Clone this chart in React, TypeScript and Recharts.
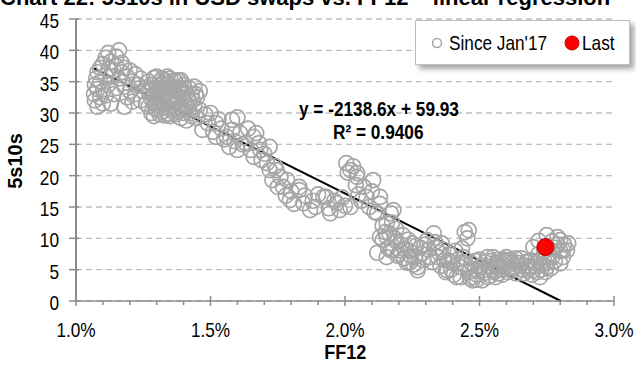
import React from 'react';
import { ScatterChart, Scatter, XAxis, YAxis, CartesianGrid, ReferenceLine } from 'recharts';

const titleText = 'Chart 22: 5s10s in USD swaps vs. FF12 – linear regression';
const xAxisTitle = 'FF12';
const yAxisTitle = '5s10s';
const seriesNames = ["Since Jan'17", 'Last'];
const equationText = 'y = -2138.6x + 59.93';
const r2Text = 'R² = 0.9406';

const xTicks = [1.0, 1.1, 1.2, 1.3, 1.4, 1.5, 1.6, 1.7, 1.8, 1.9, 2.0, 2.1, 2.2, 2.3, 2.4, 2.5, 2.6, 2.7, 2.8, 2.9, 3.0];
const yTicks = [0, 5, 10, 15, 20, 25, 30, 35, 40, 45];

// regression: y = slope * (FF12 in %/100) + intercept, drawn from min FF12 to where it meets the 0 axis
const trendSlope = -2138.6;
const trendIntercept = 59.93;
const trendRangeX = [1.067, 2.8023];

// FF12 (%), 5s10s (bp)
const sinceJan17: [number, number][] = [
  [1.067, 33.0], [1.07, 34.5], [1.07, 32.0], [1.075, 35.5], [1.08, 31.0], [1.08, 33.8], [1.08, 36.5], [1.09, 32.5],
  [1.09, 35.0], [1.10, 31.5], [1.10, 33.5], [1.10, 37.8], [1.11, 36.0], [1.11, 38.8], [1.12, 34.5], [1.12, 37.0],
  [1.12, 39.6], [1.13, 35.8], [1.13, 38.2], [1.14, 36.8], [1.14, 33.0], [1.15, 37.5], [1.15, 39.0], [1.16, 40.0],
  [1.16, 35.5], [1.17, 36.5], [1.17, 38.0], [1.18, 34.2], [1.18, 37.2], [1.19, 35.8], [1.19, 32.5], [1.20, 36.8],
  [1.20, 33.5], [1.21, 35.0], [1.21, 31.8], [1.22, 36.2], [1.22, 33.0], [1.23, 34.5], [1.24, 32.0], [1.24, 35.5],
  [1.25, 33.5], [1.26, 31.5], [1.26, 34.0], [1.11, 32.8], [1.13, 31.5], [1.09, 37.2], [1.15, 34.0], [1.18, 31.0],
  [1.27, 31.0], [1.27, 33.5], [1.27, 35.0], [1.28, 30.0], [1.28, 32.2], [1.28, 34.5], [1.29, 29.5], [1.29, 31.5],
  [1.29, 33.0], [1.29, 35.6], [1.30, 30.5], [1.30, 32.5], [1.30, 34.0], [1.30, 35.8], [1.31, 29.8], [1.31, 31.2],
  [1.31, 33.5], [1.31, 35.0], [1.32, 30.2], [1.32, 32.0], [1.32, 34.5], [1.32, 35.5], [1.33, 29.6], [1.33, 31.0],
  [1.33, 32.8], [1.33, 35.2], [1.34, 30.8], [1.34, 33.2], [1.34, 34.8], [1.34, 35.8], [1.35, 29.5], [1.35, 31.8],
  [1.35, 33.8], [1.35, 35.5], [1.36, 30.5], [1.36, 32.5], [1.36, 34.2], [1.37, 29.8], [1.37, 31.5], [1.37, 33.0],
  [1.37, 35.0], [1.38, 30.2], [1.38, 32.2], [1.38, 34.0], [1.39, 29.2], [1.39, 31.0], [1.39, 33.5], [1.39, 35.2],
  [1.40, 30.0], [1.40, 32.5], [1.40, 34.5], [1.41, 28.8], [1.41, 31.2], [1.41, 33.2], [1.42, 30.5], [1.42, 32.0],
  [1.42, 34.0], [1.43, 29.5], [1.43, 33.0], [1.44, 31.0], [1.44, 34.2], [1.45, 29.2], [1.45, 32.5], [1.46, 30.5],
  [1.46, 33.5], [1.285, 33.8], [1.295, 30.8], [1.305, 33.2], [1.315, 34.6], [1.325, 31.6], [1.335, 34.0], [1.345, 29.9],
  [1.355, 32.6], [1.365, 35.2], [1.375, 31.9], [1.385, 33.6], [1.395, 30.6], [1.405, 33.9], [1.415, 32.4], [1.425, 30.0],
  [1.435, 32.0], [1.445, 33.0], [1.30, 31.8], [1.33, 33.8], [1.36, 31.2], [1.38, 35.2], [1.34, 32.2], [1.32, 33.2],
  [1.47, 27.3], [1.48, 29.8], [1.49, 28.4], [1.50, 30.0], [1.51, 27.0], [1.52, 28.4], [1.52, 26.2], [1.53, 29.0],
  [1.54, 27.5], [1.55, 25.8], [1.56, 26.2], [1.57, 24.6], [1.58, 27.3], [1.58, 28.9], [1.59, 25.5], [1.60, 29.3],
  [1.60, 24.1], [1.61, 26.8], [1.62, 25.0], [1.63, 25.2], [1.64, 27.5], [1.65, 24.1], [1.66, 26.2], [1.66, 23.0],
  [1.67, 26.8], [1.68, 25.2], [1.685, 24.1], [1.69, 22.5], [1.70, 23.5], [1.71, 22.0], [1.72, 24.6], [1.72, 20.9],
  [1.73, 19.3], [1.74, 21.5], [1.745, 20.9], [1.75, 18.2], [1.76, 19.8],
  [1.77, 18.2], [1.78, 16.8], [1.785, 19.3], [1.795, 16.1], [1.80, 17.5], [1.81, 15.5], [1.83, 18.2], [1.83, 17.7],
  [1.845, 15.6], [1.85, 16.8], [1.87, 14.5], [1.88, 16.0], [1.89, 15.0], [1.90, 17.0], [1.92, 16.6], [1.93, 16.6],
  [1.94, 14.8], [1.945, 14.0], [1.96, 16.0], [1.97, 15.6], [1.98, 14.5], [1.99, 16.5], [2.00, 15.2],
  [2.005, 22.0], [2.01, 20.5], [2.02, 20.9], [2.02, 15.0], [2.03, 21.5], [2.04, 18.5], [2.045, 19.8], [2.045, 20.4],
  [2.05, 17.0], [2.06, 16.0], [2.07, 18.2], [2.08, 16.6], [2.09, 15.0], [2.10, 17.5], [2.105, 19.3], [2.11, 14.2],
  [2.12, 14.0], [2.13, 16.6], [2.13, 15.5],
  [2.12, 7.7], [2.13, 10.2], [2.14, 9.7], [2.14, 12.0], [2.15, 11.0], [2.155, 12.4], [2.155, 10.2], [2.155, 7.0],
  [2.16, 8.5], [2.17, 8.1], [2.17, 14.0], [2.18, 14.5], [2.18, 8.1], [2.19, 9.5], [2.19, 11.5], [2.20, 7.5],
  [2.205, 8.1], [2.21, 9.0], [2.22, 6.8], [2.23, 6.1], [2.24, 6.1], [2.24, 8.0], [2.25, 9.2], [2.26, 7.0],
  [2.27, 5.4], [2.27, 4.9], [2.28, 8.5], [2.29, 6.5], [2.305, 9.7], [2.315, 7.0], [2.33, 10.8], [2.34, 8.5],
  [2.35, 7.7], [2.36, 9.2], [2.37, 6.5], [2.38, 4.9], [2.39, 7.5], [2.40, 6.1], [2.41, 8.0], [2.415, 3.8],
  [2.43, 5.4], [2.43, 3.8], [2.44, 7.0], [2.445, 11.0], [2.46, 11.3], [2.455, 10.0], [2.47, 6.0], [2.475, 3.8],
  [2.165, 10.8], [2.175, 12.5], [2.185, 10.0], [2.195, 7.2], [2.215, 10.5], [2.225, 8.2], [2.235, 9.8], [2.245, 7.2],
  [2.255, 5.8], [2.265, 8.8], [2.285, 7.5], [2.295, 9.0], [2.31, 8.2], [2.325, 6.2], [2.335, 9.4], [2.345, 7.0],
  [2.355, 5.6], [2.365, 8.2], [2.375, 4.6], [2.385, 6.4], [2.395, 5.0], [2.405, 4.2], [2.42, 6.6], [2.435, 8.4],
  [2.445, 5.8], [2.46, 4.6], [2.465, 3.6], [2.485, 6.4], [2.495, 4.8],
  [2.475, 3.3], [2.48, 5.0], [2.49, 4.2], [2.50, 5.4], [2.51, 3.3], [2.52, 4.5], [2.53, 7.0], [2.53, 3.8],
  [2.54, 5.5], [2.55, 7.0], [2.555, 4.6], [2.565, 5.4], [2.565, 6.1], [2.58, 5.0], [2.59, 5.8], [2.60, 6.5],
  [2.60, 7.0], [2.61, 5.2], [2.62, 6.0], [2.63, 5.5], [2.64, 6.1], [2.65, 6.1], [2.66, 5.0], [2.67, 5.6],
  [2.68, 4.9], [2.69, 6.5], [2.70, 4.9], [2.70, 8.6], [2.71, 6.0], [2.72, 7.5], [2.725, 3.8], [2.73, 5.0],
  [2.74, 6.5], [2.75, 5.4], [2.76, 7.5], [2.77, 7.0], [2.78, 8.5], [2.79, 9.0], [2.80, 9.7], [2.80, 8.0],
  [2.81, 7.0], [2.81, 8.1], [2.51, 4.8], [2.52, 6.2], [2.54, 4.0], [2.56, 5.8], [2.57, 4.4], [2.59, 6.6],
  [2.62, 4.8], [2.635, 6.8], [2.50, 6.6], [2.49, 3.4],
  [2.545, 6.4], [2.55, 5.0], [2.56, 3.8], [2.57, 6.6], [2.575, 5.6], [2.585, 4.2], [2.595, 6.2], [2.605, 4.6],
  [2.615, 6.6], [2.625, 5.2], [2.635, 4.4], [2.645, 5.6], [2.655, 6.8], [2.665, 4.4], [2.675, 6.2], [2.685, 5.4],
  [2.695, 4.2], [2.705, 5.6], [2.715, 4.6], [2.72, 6.4], [2.735, 5.8], [2.745, 4.6], [2.755, 6.2], [2.765, 5.2],
  [2.72, 9.6], [2.75, 10.5], [2.77, 9.5], [2.79, 10.2], [2.80, 6.0], [2.815, 9.0], [2.825, 8.1], [2.83, 9.2],
  [2.78, 6.4], [2.74, 8.0],
];
const lastPoint: [number, number][] = [[2.745, 8.6]];

const sinceData = sinceJan17.map(([x, y]) => ({ x, y }));
const lastData = lastPoint.map(([x, y]) => ({ x, y }));
const trendSegment = trendRangeX.map((x) => ({ x, y: Math.max(0, trendSlope * (x / 100) + trendIntercept) }));

const FONT = '"Liberation Sans", Arial, sans-serif';
const NARROW = 0.82;
const AXIS = '#8c8c8c';

const HollowDot = (props: any) => (
  <circle cx={props.cx} cy={props.cy} r={7.5} fill="none" stroke="#a6a6a6" strokeWidth={1.7} />
);
const RedDot = (props: any) => (
  <circle cx={props.cx} cy={props.cy} r={8.5} fill="#ff0000" stroke="#c00000" strokeWidth={1} />
);

const XTick = (props: any) => {
  const { x, y, payload } = props;
  const v = payload.value as number;
  const major = Math.abs(v * 2 - Math.round(v * 2)) < 1e-6;
  return (
    <g>
      <line x1={x} x2={x} y1={major ? y - 5 : y} y2={y + (major ? 5 : 4)} stroke={AXIS} strokeWidth={1.5} />
      {major && (
        <text transform={`translate(${x},${y + 36}) scale(${NARROW},1)`} textAnchor="middle" fontFamily={FONT} fontSize={21} fill="#000">
          {v.toFixed(1) + '%'}
        </text>
      )}
    </g>
  );
};

const YTick = (props: any) => {
  const { x, y, payload } = props;
  return (
    <g>
      <line x1={x - 7} x2={x + 3} y1={y} y2={y} stroke={AXIS} strokeWidth={1.5} />
      <text transform={`translate(${x - 17},${y + 9}) scale(${NARROW},1)`} textAnchor="end" fontFamily={FONT} fontSize={21} fill="#000">
        {payload.value}
      </text>
    </g>
  );
};

const narrowSpan = (text: string, extra: React.CSSProperties = {}) => (
  <span style={{ display: 'inline-block', transform: `scaleX(${NARROW})`, transformOrigin: 'left center', whiteSpace: 'nowrap', ...extra }}>{text}</span>
);

export default function App() {
  return (
    <div style={{ position: 'absolute', left: 0, top: 0, width: 636, height: 367, overflow: 'hidden', background: '#fff', fontFamily: FONT }}>
      <div style={{ position: 'absolute', left: 0, top: -13, fontSize: 22, fontWeight: 'bold', whiteSpace: 'nowrap', lineHeight: '22px' }}>
        {titleText}
      </div>
      <ScatterChart width={636} height={367} margin={{ top: 19, right: 22, bottom: 36, left: 16 }}>
        <CartesianGrid vertical={false} stroke="#c0c0c0" strokeDasharray="6 4" strokeWidth={1.3} />
        <XAxis
          type="number"
          dataKey="x"
          domain={[1, 3]}
          ticks={xTicks}
          interval={0}
          allowDataOverflow
          height={30}
          tickSize={0}
          tickMargin={0}
          tick={<XTick />}
          axisLine={{ stroke: AXIS, strokeWidth: 1.5 }}
        />
        <YAxis
          type="number"
          dataKey="y"
          domain={[0, 45]}
          ticks={yTicks}
          interval={0}
          allowDataOverflow
          width={60}
          tickSize={0}
          tickMargin={0}
          tick={<YTick />}
          axisLine={{ stroke: AXIS, strokeWidth: 2 }}
        />
        <Scatter name={seriesNames[0]} data={sinceData} shape={<HollowDot />} isAnimationActive={false} />
        <ReferenceLine
          segment={[{ x: trendSegment[0].x, y: trendSegment[0].y }, { x: trendSegment[1].x, y: trendSegment[1].y }]}
          stroke="#000"
          strokeWidth={2}
          ifOverflow="visible"
        />
        <Scatter name={seriesNames[1]} data={lastData} shape={<RedDot />} isAnimationActive={false} />
      </ScatterChart>
      <div style={{ position: 'absolute', left: 299, top: 97, fontSize: 21, fontWeight: 'bold', lineHeight: '23px' }}>
        {narrowSpan(equationText)}
      </div>
      <div style={{ position: 'absolute', left: 333, top: 120, fontSize: 21, fontWeight: 'bold', lineHeight: '23px' }}>
        {narrowSpan(r2Text)}
      </div>
      <div style={{ position: 'absolute', left: 305, top: 341, width: 80, textAlign: 'center', fontSize: 20, fontWeight: 'bold', lineHeight: '22px' }}>
        <span style={{ display: 'inline-block', transform: 'scaleX(0.9)' }}>{xAxisTitle}</span>
      </div>
      <div style={{ position: 'absolute', left: 15 - 35, top: 161 - 11, width: 70, height: 22, textAlign: 'center', fontSize: 20, fontWeight: 'bold', lineHeight: '22px', transform: 'rotate(-90deg)' }}>
        {yAxisTitle}
      </div>
      <div style={{ position: 'absolute', left: 415, top: 20, width: 215, height: 45, background: '#fff', border: '1px solid #bfbfbf', boxShadow: '4px 4px 5px rgba(0,0,0,0.35)', boxSizing: 'border-box' }}>
        <svg width={215} height={45} style={{ position: 'absolute', left: -1, top: -1 }}>
          <circle cx={22} cy={23} r={4.5} fill="none" stroke="#a6a6a6" strokeWidth={1.5} />
          <circle cx={157} cy={23} r={7} fill="#ff0000" stroke="#c00000" strokeWidth={1} />
        </svg>
        <div style={{ position: 'absolute', left: 33, top: 10, fontSize: 21, lineHeight: '24px' }}>{narrowSpan(seriesNames[0])}</div>
        <div style={{ position: 'absolute', left: 166, top: 10, fontSize: 21, lineHeight: '24px' }}>{narrowSpan(seriesNames[1])}</div>
      </div>
    </div>
  );
}
